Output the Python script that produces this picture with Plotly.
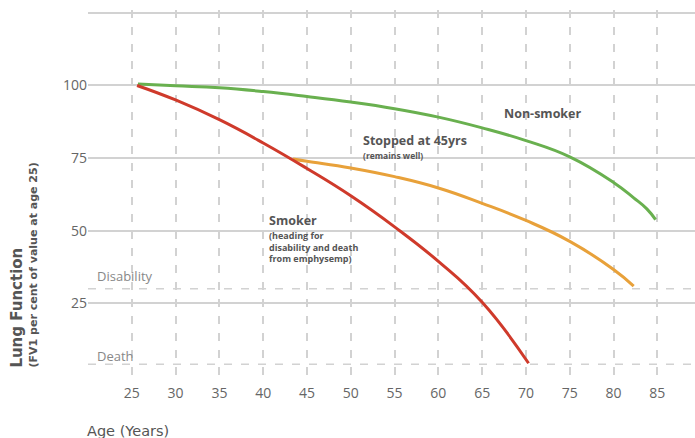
import plotly.graph_objects as go

# ---- data ----
green_age = [25.7, 30, 35, 40, 45, 50, 55, 60, 65, 70, 75, 80, 82.3, 83.8, 84.8]
green_val = [100.5, 99.9, 99.2, 97.9, 96.2, 94.3, 92.0, 89.1, 85.4, 81.0, 75.4, 66.6, 61.3, 57.5, 53.8]

red_age = [25.6, 30, 35, 40, 45, 50, 55, 60, 65, 70.3]
red_val = [100.0, 95.0, 88.2, 80.2, 71.4, 62.0, 51.3, 39.4, 25.3, 4.3]

orange_age = [43.4, 45, 50, 55, 60, 65, 70, 75, 80, 82.3]
orange_val = [74.7, 73.9, 71.6, 68.6, 64.7, 59.4, 53.5, 46.3, 36.6, 30.9]

x_ticks = [20, 25, 30, 35, 40, 45, 50, 55, 60, 65, 70, 75, 80, 85]
x_labels = ["", "25", "30", "35", "40", "45", "50", "55", "60", "65", "70", "75", "80", "85"]
y_ticks = [25, 50, 75, 100, 125]
y_labels = ["25", "50", "75", "100", ""]

disability_level = 30
death_level = 4

FONT = "Open Sans"
WIDE = "DejaVu Sans"
GREEN = "#69b04f"
RED = "#cf3a2b"
ORANGE = "#e8a13a"
GRID = "#d2d2d2"
TXT = "#555555"

fig = go.Figure()
for ages, vals, col in [(green_age, green_val, GREEN),
                        (orange_age, orange_val, ORANGE),
                        (red_age, red_val, RED)]:
    fig.add_trace(go.Scatter(x=ages, y=vals, mode="lines",
                             line=dict(color=col, width=3, shape="spline", smoothing=1.3),
                             showlegend=False, hoverinfo="skip"))

for lvl in [disability_level, death_level]:
    fig.add_shape(type="line", xref="paper", x0=0, x1=1, yref="y", y0=lvl, y1=lvl,
                  line=dict(color=GRID, width=1.5, dash="8px,9px"), layer="below")

def ann(text, x, y, size, bold=False, xanchor="left", color=TXT, family=FONT, **kw):
    t = f"<b>{text}</b>" if bold else text
    fig.add_annotation(text=t, x=x, y=y, showarrow=False, xanchor=xanchor, yanchor="middle",
                       font=dict(family=family, size=size, color=color), align="left", **kw)

ann("Non-smoker", 71.9, 90.2, 12.5, bold=True, xanchor="center")
ann("Stopped at 45yrs", 51.2, 81.0, 12.5, bold=True)
ann("(remains well)", 51.2, 75.9, 8.5, bold=True)
ann("Smoker", 40.4, 53.4, 12.5, bold=True)
ann("(heading for<br>disability and death<br>from emphysemp)", 40.4, 44.3, 9, bold=True)
ann("Disability", 20.8, 34.2, 13, color="#888888")
ann("Death", 20.8, 6.8, 13, color="#888888")

fig.add_annotation(text="Age (Years)", xref="paper", yref="paper", x=-0.005, y=-0.128,
                   xanchor="left", yanchor="middle", showarrow=False,
                   font=dict(family=WIDE, size=14.5, color=TXT))
fig.add_annotation(text="<b>Lung Function</b>", xref="paper", yref="paper", x=-0.1175, y=0.035,
                   xanchor="center", yanchor="bottom", textangle=-90, showarrow=False,
                   font=dict(family=WIDE, size=15, color=TXT))
fig.add_annotation(text="<b>(FV1 per cent of value at age 25)</b>", xref="paper", yref="paper",
                   x=-0.0906, y=0.035, xanchor="center", yanchor="bottom", textangle=-90,
                   showarrow=False, font=dict(family=WIDE, size=11, color=TXT))

fig.update_layout(
    width=695, height=438,
    margin=dict(l=88, r=0, t=10, b=55),
    paper_bgcolor="white", plot_bgcolor="white",
    xaxis=dict(range=[20, 89.3], tickvals=x_ticks, ticktext=x_labels,
               showgrid=True, gridcolor=GRID, gridwidth=1.5, griddash="8px,9px",
               zeroline=False, showline=False, ticks="", ticklen=0,
               tickfont=dict(family=FONT, size=14, color="#666666")),
    yaxis=dict(range=[-2.5, 126], tickvals=y_ticks, ticktext=y_labels,
               showgrid=True, gridcolor=GRID, gridwidth=1.5,
               zeroline=False, showline=False, ticks="",
               tickfont=dict(family=FONT, size=14, color="#666666")),
)

fig.write_html("out.html", config={"displayModeBar": False},
               post_script="document.body.style.margin='0px';document.body.style.padding='0px';")
